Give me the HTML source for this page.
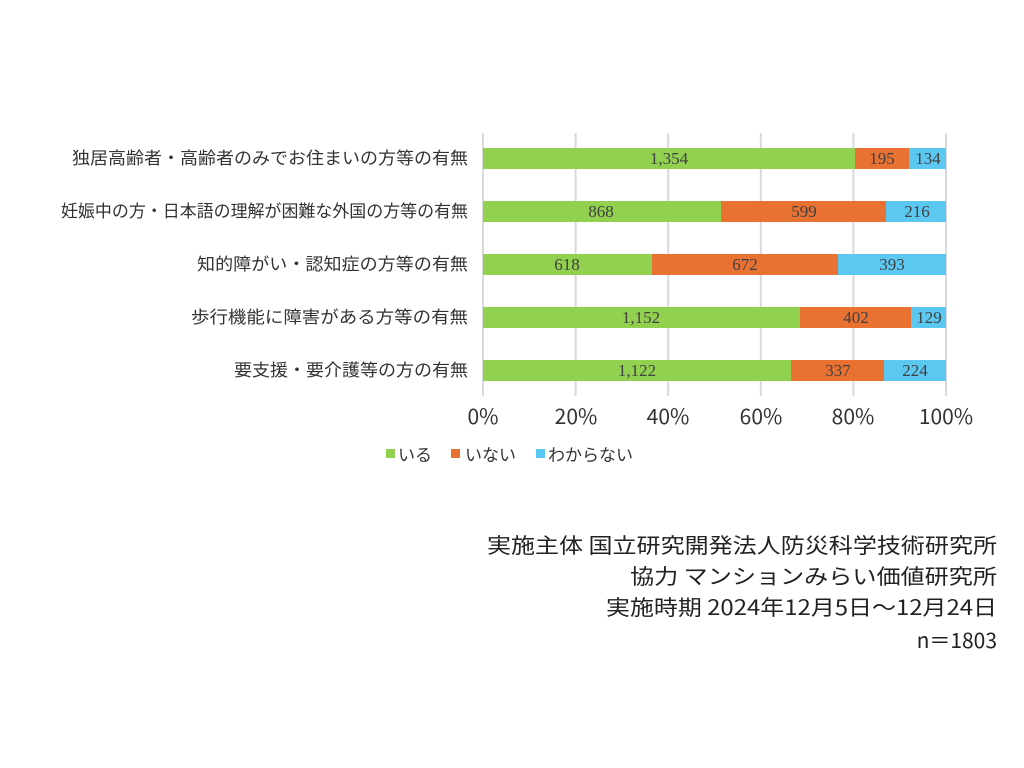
<!DOCTYPE html>
<html><head><meta charset="utf-8"><style>
html,body{margin:0;padding:0;background:#fff;width:1024px;height:768px;overflow:hidden}
.j{font-family:"Noto Sans CJK JP",sans-serif}
.s{font-family:"Liberation Serif",serif}
</style></head><body>
<svg width="1024" height="768" xmlns="http://www.w3.org/2000/svg">
<g stroke="#d9d9d9" stroke-width="2">
<line x1="483" y1="133" x2="483" y2="396"/><line x1="575.6" y1="133" x2="575.6" y2="396"/>
<line x1="668.2" y1="133" x2="668.2" y2="396"/><line x1="760.8" y1="133" x2="760.8" y2="396"/>
<line x1="853.4" y1="133" x2="853.4" y2="396"/><line x1="946" y1="133" x2="946" y2="396"/>
</g>
<g font-size="17" fill="#333">
<text class="j" x="72" y="164" textLength="396" lengthAdjust="spacingAndGlyphs">独居高齢者・高齢者のみでお住まいの方等の有無</text>
<text class="j" x="61" y="217" textLength="407" lengthAdjust="spacingAndGlyphs">妊娠中の方・日本語の理解が困難な外国の方等の有無</text>
<text class="j" x="197" y="270" textLength="271" lengthAdjust="spacingAndGlyphs">知的障がい・認知症の方等の有無</text>
<text class="j" x="191" y="323" textLength="277" lengthAdjust="spacingAndGlyphs">歩行機能に障害がある方等の有無</text>
<text class="j" x="234" y="376" textLength="234" lengthAdjust="spacingAndGlyphs">要支援・要介護等の方の有無</text>
</g>
<g>
<rect x="483" y="148" width="372" height="21" fill="#92d050"/><rect x="855" y="148" width="54" height="21" fill="#e97132"/><rect x="909" y="148" width="37" height="21" fill="#5bc8f2"/>
<rect x="483" y="201" width="238" height="21" fill="#92d050"/><rect x="721" y="201" width="165" height="21" fill="#e97132"/><rect x="886" y="201" width="60" height="21" fill="#5bc8f2"/>
<rect x="483" y="254" width="169" height="21" fill="#92d050"/><rect x="652" y="254" width="186" height="21" fill="#e97132"/><rect x="838" y="254" width="108" height="21" fill="#5bc8f2"/>
<rect x="483" y="307" width="317" height="21" fill="#92d050"/><rect x="800" y="307" width="111" height="21" fill="#e97132"/><rect x="911" y="307" width="35" height="21" fill="#5bc8f2"/>
<rect x="483" y="360" width="308" height="21" fill="#92d050"/><rect x="791" y="360" width="93" height="21" fill="#e97132"/><rect x="884" y="360" width="62" height="21" fill="#5bc8f2"/>
</g>
<g font-size="17" fill="#404040" text-anchor="middle">
<text class="s" x="669" y="164">1,354</text><text class="s" x="882" y="164">195</text><text class="s" x="928" y="164">134</text>
<text class="s" x="601" y="217">868</text><text class="s" x="804" y="217">599</text><text class="s" x="917" y="217">216</text>
<text class="s" x="567" y="270">618</text><text class="s" x="745" y="270">672</text><text class="s" x="892" y="270">393</text>
<text class="s" x="641" y="323">1,152</text><text class="s" x="856" y="323">402</text><text class="s" x="929" y="323">129</text>
<text class="s" x="637" y="376">1,122</text><text class="s" x="838" y="376">337</text><text class="s" x="915" y="376">224</text>
</g>
<g font-size="21" fill="#333" text-anchor="middle">
<text class="j" x="483" y="424">0%</text><text class="j" x="576" y="424">20%</text><text class="j" x="668" y="424">40%</text>
<text class="j" x="761" y="424">60%</text><text class="j" x="853" y="424">80%</text><text class="j" x="946" y="424">100%</text>
</g>
<g font-size="17" fill="#333">
<rect x="386" y="449" width="9" height="9" fill="#92d050"/><text class="j" x="398" y="461">いる</text>
<rect x="451" y="449" width="9" height="9" fill="#e97132"/><text class="j" x="465" y="461">いない</text>
<rect x="536" y="449" width="9" height="9" fill="#5bc8f2"/><text class="j" x="548" y="461">わからない</text>
</g>
<g font-size="21" fill="#222">
<text class="j" x="487" y="553" textLength="510" lengthAdjust="spacingAndGlyphs">実施主体 国立研究開発法人防災科学技術研究所</text>
<text class="j" x="630" y="584" textLength="367" lengthAdjust="spacingAndGlyphs">協力 マンションみらい価値研究所</text>
<text class="j" x="606" y="615" textLength="391" lengthAdjust="spacingAndGlyphs">実施時期 2024年12月5日～12月24日</text>
<text class="j" x="997" y="648" text-anchor="end">n＝1803</text>
</g>
</svg>
</body></html>
